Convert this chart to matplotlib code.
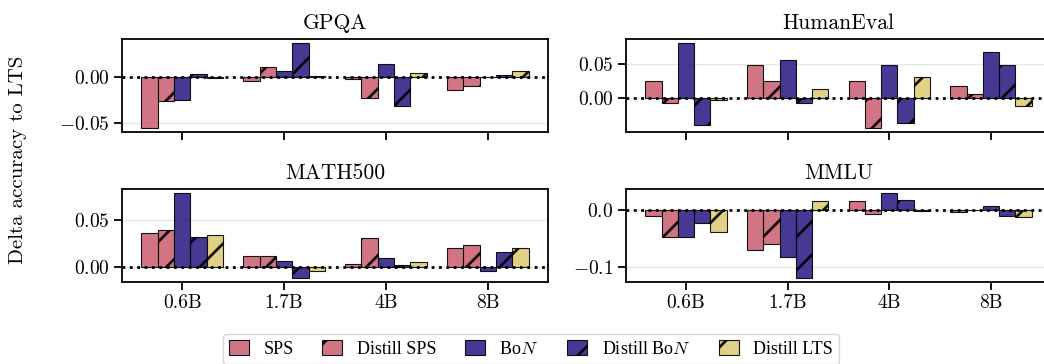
import matplotlib
matplotlib.use("Agg")
import matplotlib.pyplot as plt
import numpy as np

plt.rcParams.update({
    "font.family": "cmr10",
    "mathtext.fontset": "cm",
    "axes.formatter.use_mathtext": True,
    "axes.unicode_minus": True,
    "hatch.linewidth": 2.0,
    "hatch.color": "black",
})

# Model sizes along the x axis
sizes = ["0.6B", "1.7B", "4B", "8B"]

# Method names (legend order)
methods = ["SPS", "Distill SPS", "Bo$N$", "Distill Bo$N$", "Distill LTS"]

# Delta accuracy relative to LTS, one list per method, per benchmark
gpqa_sps = [-0.055, -0.004, -0.002, -0.0134]
gpqa_distill_sps = [-0.0264, 0.0116, -0.0224, -0.0094]
gpqa_bon = [-0.0243, 0.0069, 0.0138, 0.0003]
gpqa_distill_bon = [0.0036, 0.0369, -0.0311, 0.0029]
gpqa_distill_lts = [-0.0008, 0.0018, 0.0047, 0.0072]

humaneval_sps = [0.0244, 0.0488, 0.0244, 0.0176]
humaneval_distill_sps = [-0.0069, 0.0244, -0.0441, 0.0054]
humaneval_bon = [0.0804, 0.0554, 0.0488, 0.0676]
humaneval_distill_bon = [-0.0407, -0.0069, -0.0377, 0.0488]
humaneval_distill_lts = [-0.0034, 0.0123, 0.0304, -0.0127]

math500_sps = [0.0356, 0.0120, 0.0035, 0.0197]
math500_distill_sps = [0.0394, 0.0120, 0.0303, 0.0236]
math500_bon = [0.0782, 0.0063, 0.0099, -0.0042]
math500_distill_bon = [0.0320, -0.0113, 0.0018, 0.0155]
math500_distill_lts = [0.0342, -0.0042, 0.0056, 0.0197]

mmlu_sps = [-0.0104, -0.0705, 0.0145, -0.0035]
mmlu_distill_sps = [-0.0480, -0.0607, -0.0081, -0.0010]
mmlu_bon = [-0.0480, -0.0827, 0.0283, 0.0064]
mmlu_distill_bon = [-0.0231, -0.1185, 0.0168, -0.0121]
mmlu_distill_lts = [-0.0393, 0.0156, -0.0017, -0.0127]

benchmarks = {
    "GPQA": [gpqa_sps, gpqa_distill_sps, gpqa_bon, gpqa_distill_bon, gpqa_distill_lts],
    "HumanEval": [humaneval_sps, humaneval_distill_sps, humaneval_bon,
                  humaneval_distill_bon, humaneval_distill_lts],
    "MATH500": [math500_sps, math500_distill_sps, math500_bon,
                math500_distill_bon, math500_distill_lts],
    "MMLU": [mmlu_sps, mmlu_distill_sps, mmlu_bon, mmlu_distill_bon, mmlu_distill_lts],
}
yticks = {
    "GPQA": [-0.05, 0.0],
    "HumanEval": [0.0, 0.05],
    "MATH500": [0.0, 0.05],
    "MMLU": [-0.1, 0.0],
}

rose, indigo, sand = "#CC6677", "#332288", "#DDCC77"
colors = [rose, rose, indigo, indigo, sand]
hatches = ["", "/", "", "/", "/"]

W, H = 1044, 364
fig = plt.figure(figsize=(W / 100, H / 100), dpi=100)

def box(x0, y0, x1, y1):
    return [x0 / W, 1 - y1 / H, (x1 - x0) / W, (y1 - y0) / H]

positions = {
    "GPQA": box(122, 39, 548, 132),
    "HumanEval": box(626, 39, 1051, 132),
    "MATH500": box(122, 189, 548, 282),
    "MMLU": box(626, 189, 1051, 282),
}

x = np.arange(len(sizes))
width = 0.16
handles = []
for name, series in benchmarks.items():
    ax = fig.add_axes(positions[name])
    for i, vals in enumerate(series):
        bars = ax.bar(x + (i - 2) * width, vals, width, color=colors[i], alpha=0.9,
                      edgecolor="black", linewidth=0.8, hatch=hatches[i], zorder=2)
        if name == "GPQA":
            handles.append(bars)
    ax.axhline(0, color="black", linestyle=":", linewidth=2.0, zorder=5)
    ax.set_yticks(yticks[name])
    ax.set_xticks(x)
    if name in ("MATH500", "MMLU"):
        ax.set_xticklabels(sizes)
    else:
        ax.set_xticklabels([])
    ax.yaxis.grid(True, color="#e6e6e6", linewidth=1.0, zorder=0)
    ax.set_axisbelow(True)
    ax.tick_params(axis="both", direction="out", length=6, width=1.3,
                   labelsize=14, pad=3)
    for s in ax.spines.values():
        s.set_linewidth(1.3)
    ax.set_title(name, fontsize=15.5, pad=7)

fig.text(0.0177, 1 - 160 / H, "Delta accuracy to LTS", rotation=90,
         ha="center", va="center", fontsize=15)

leg = fig.legend(handles, methods, loc="center", bbox_to_anchor=(531 / W, 1 - 349 / H),
                 ncol=5, frameon=True, fancybox=True, handlelength=1.1, handleheight=0.9,
                 handletextpad=0.8, columnspacing=1.6, borderpad=0.35,
                 prop={"family": "Liberation Serif", "size": 13})
leg.get_frame().set_edgecolor("#cccccc")
leg.get_frame().set_linewidth(1.0)

fig.savefig("out.png", dpi=100)
